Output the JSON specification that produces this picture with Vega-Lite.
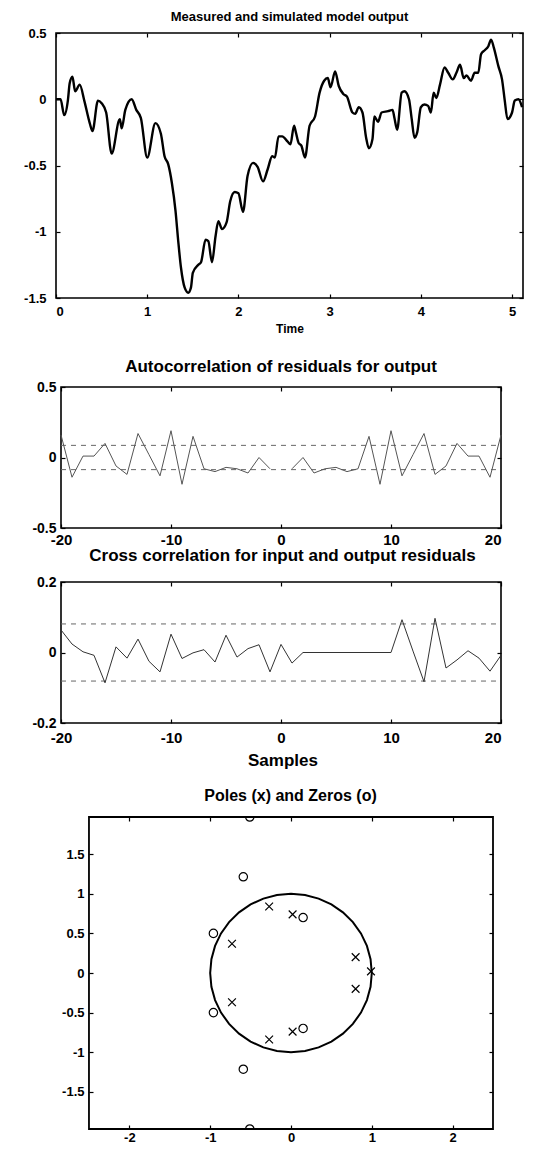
{
  "$schema": "https://vega.github.io/schema/vega-lite/v6.json",
  "background": "white",
  "padding": {"left": 0, "top": 10, "right": 0, "bottom": 0},
  "config": {
    "font": "Liberation Sans",
    "view": {"stroke": "black", "strokeWidth": 1.6},
    "axis": {"domain": false, "grid": false, "ticks": true, "tickColor": "black", "tickSize": -4, "tickWidth": 1.2, "labelColor": "black", "labelFont": "Liberation Sans", "labelFontWeight": "bold", "titleColor": "black", "titleFont": "Liberation Sans", "titleFontWeight": "bold", "labelExpr": "'' + datum.value"},
    "title": {"font": "Liberation Sans", "fontWeight": "bold", "color": "black", "anchor": "middle"}
  },
  "datasets": {
    "meas": [
      {"t":0.00,"v":0.00},{"t":0.05,"v":0.00},{"t":0.09,"v":-0.12},{"t":0.13,"v":-0.01},{"t":0.15,"v":0.12},{"t":0.18,"v":0.17},{"t":0.21,"v":0.06},{"t":0.26,"v":0.11},{"t":0.31,"v":-0.01},{"t":0.37,"v":-0.18},{"t":0.40,"v":-0.24},{"t":0.46,"v":-0.01},{"t":0.50,"v":-0.03},{"t":0.55,"v":-0.10},{"t":0.61,"v":-0.41},{"t":0.70,"v":-0.15},{"t":0.72,"v":-0.22},{"t":0.76,"v":-0.08},{"t":0.83,"v":0.00},{"t":0.88,"v":-0.08},{"t":0.93,"v":-0.14},{"t":1.00,"v":-0.44},{"t":1.09,"v":-0.18},{"t":1.15,"v":-0.26},{"t":1.19,"v":-0.43},{"t":1.23,"v":-0.49},{"t":1.27,"v":-0.63},{"t":1.31,"v":-0.84},{"t":1.34,"v":-1.07},{"t":1.37,"v":-1.27},{"t":1.41,"v":-1.42},{"t":1.45,"v":-1.46},{"t":1.48,"v":-1.42},{"t":1.50,"v":-1.31},{"t":1.56,"v":-1.25},{"t":1.59,"v":-1.23},{"t":1.64,"v":-1.06},{"t":1.67,"v":-1.07},{"t":1.71,"v":-1.23},{"t":1.75,"v":-1.03},{"t":1.78,"v":-0.92},{"t":1.82,"v":-0.98},{"t":1.87,"v":-0.93},{"t":1.91,"v":-0.77},{"t":1.96,"v":-0.70},{"t":2.00,"v":-0.71},{"t":2.05,"v":-0.85},{"t":2.10,"v":-0.58},{"t":2.16,"v":-0.48},{"t":2.21,"v":-0.51},{"t":2.27,"v":-0.62},{"t":2.32,"v":-0.53},{"t":2.37,"v":-0.43},{"t":2.40,"v":-0.44},{"t":2.44,"v":-0.28},{"t":2.48,"v":-0.28},{"t":2.54,"v":-0.32},{"t":2.57,"v":-0.34},{"t":2.61,"v":-0.20},{"t":2.63,"v":-0.25},{"t":2.66,"v":-0.33},{"t":2.69,"v":-0.35},{"t":2.73,"v":-0.44},{"t":2.78,"v":-0.20},{"t":2.84,"v":-0.13},{"t":2.89,"v":0.05},{"t":2.94,"v":0.14},{"t":2.98,"v":0.16},{"t":3.01,"v":0.09},{"t":3.06,"v":0.21},{"t":3.10,"v":0.10},{"t":3.15,"v":0.04},{"t":3.19,"v":0.02},{"t":3.25,"v":-0.10},{"t":3.28,"v":-0.11},{"t":3.32,"v":-0.06},{"t":3.36,"v":-0.10},{"t":3.40,"v":-0.29},{"t":3.43,"v":-0.37},{"t":3.47,"v":-0.30},{"t":3.49,"v":-0.13},{"t":3.53,"v":-0.17},{"t":3.57,"v":-0.10},{"t":3.64,"v":-0.09},{"t":3.69,"v":-0.08},{"t":3.71,"v":-0.14},{"t":3.74,"v":-0.23},{"t":3.79,"v":0.05},{"t":3.82,"v":0.06},{"t":3.87,"v":0.00},{"t":3.90,"v":-0.15},{"t":3.93,"v":-0.29},{"t":3.96,"v":-0.25},{"t":4.00,"v":-0.06},{"t":4.04,"v":-0.04},{"t":4.08,"v":-0.05},{"t":4.11,"v":-0.10},{"t":4.14,"v":0.05},{"t":4.17,"v":0.01},{"t":4.21,"v":0.11},{"t":4.26,"v":0.24},{"t":4.30,"v":0.20},{"t":4.35,"v":0.15},{"t":4.39,"v":0.20},{"t":4.43,"v":0.26},{"t":4.47,"v":0.16},{"t":4.50,"v":0.18},{"t":4.55,"v":0.14},{"t":4.59,"v":0.20},{"t":4.63,"v":0.20},{"t":4.66,"v":0.34},{"t":4.70,"v":0.37},{"t":4.74,"v":0.40},{"t":4.77,"v":0.45},{"t":4.80,"v":0.39},{"t":4.85,"v":0.25},{"t":4.89,"v":0.15},{"t":4.92,"v":-0.01},{"t":4.95,"v":-0.15},{"t":5.00,"v":-0.10},{"t":5.03,"v":-0.01},{"t":5.07,"v":0.00},{"t":5.11,"v":-0.06}
    ],
    "acf": [
      {"lag":-20,"r":0.16,"side":"a"},{"lag":-19,"r":-0.14,"side":"a"},{"lag":-18,"r":0.01,"side":"a"},{"lag":-17,"r":0.01,"side":"a"},{"lag":-16,"r":0.10,"side":"a"},{"lag":-15,"r":-0.06,"side":"a"},{"lag":-14,"r":-0.12,"side":"a"},{"lag":-13,"r":0.17,"side":"a"},{"lag":-12,"r":0.02,"side":"a"},{"lag":-11,"r":-0.13,"side":"a"},{"lag":-10,"r":0.19,"side":"a"},{"lag":-9,"r":-0.19,"side":"a"},{"lag":-8,"r":0.15,"side":"a"},{"lag":-7,"r":-0.08,"side":"a"},{"lag":-6,"r":-0.10,"side":"a"},{"lag":-5,"r":-0.07,"side":"a"},{"lag":-4,"r":-0.08,"side":"a"},{"lag":-3,"r":-0.11,"side":"a"},{"lag":-2,"r":0.00,"side":"a"},{"lag":-1,"r":-0.08,"side":"a"},
      {"lag":1,"r":-0.08,"side":"b"},{"lag":2,"r":0.00,"side":"b"},{"lag":3,"r":-0.11,"side":"b"},{"lag":4,"r":-0.08,"side":"b"},{"lag":5,"r":-0.07,"side":"b"},{"lag":6,"r":-0.10,"side":"b"},{"lag":7,"r":-0.08,"side":"b"},{"lag":8,"r":0.15,"side":"b"},{"lag":9,"r":-0.19,"side":"b"},{"lag":10,"r":0.19,"side":"b"},{"lag":11,"r":-0.13,"side":"b"},{"lag":12,"r":0.02,"side":"b"},{"lag":13,"r":0.17,"side":"b"},{"lag":14,"r":-0.12,"side":"b"},{"lag":15,"r":-0.06,"side":"b"},{"lag":16,"r":0.10,"side":"b"},{"lag":17,"r":0.01,"side":"b"},{"lag":18,"r":0.01,"side":"b"},{"lag":19,"r":-0.14,"side":"b"},{"lag":20,"r":0.16,"side":"b"}
    ],
    "ccf": [
      {"lag":-20,"r":0.064},{"lag":-19,"r":0.024},{"lag":-18,"r":0.002},{"lag":-17,"r":-0.008},{"lag":-16,"r":-0.086},{"lag":-15,"r":0.016},{"lag":-14,"r":-0.016},{"lag":-13,"r":0.038},{"lag":-12,"r":-0.025},{"lag":-11,"r":-0.055},{"lag":-10,"r":0.052},{"lag":-9,"r":-0.017},{"lag":-8,"r":-0.001},{"lag":-7,"r":0.008},{"lag":-6,"r":-0.027},{"lag":-5,"r":0.049},{"lag":-4,"r":-0.013},{"lag":-3,"r":0.011},{"lag":-2,"r":0.022},{"lag":-1,"r":-0.055},{"lag":0,"r":0.023},{"lag":1,"r":-0.030},{"lag":2,"r":0.0},{"lag":3,"r":0.0},{"lag":4,"r":0.0},{"lag":5,"r":0.0},{"lag":6,"r":0.0},{"lag":7,"r":0.0},{"lag":8,"r":0.0},{"lag":9,"r":0.0},{"lag":10,"r":0.0},{"lag":11,"r":0.093},{"lag":12,"r":0.004},{"lag":13,"r":-0.083},{"lag":14,"r":0.097},{"lag":15,"r":-0.044},{"lag":16,"r":-0.021},{"lag":17,"r":0.005},{"lag":18,"r":-0.016},{"lag":19,"r":-0.053},{"lag":20,"r":-0.008}
    ],
    "circle": [
      {"i":0,"re":1,"im":0},{"i":1,"re":0.9848,"im":0.1736},{"i":2,"re":0.9397,"im":0.342},{"i":3,"re":0.866,"im":0.5},{"i":4,"re":0.766,"im":0.6428},{"i":5,"re":0.6428,"im":0.766},{"i":6,"re":0.5,"im":0.866},{"i":7,"re":0.342,"im":0.9397},{"i":8,"re":0.1736,"im":0.9848},{"i":9,"re":0,"im":1},{"i":10,"re":-0.1736,"im":0.9848},{"i":11,"re":-0.342,"im":0.9397},{"i":12,"re":-0.5,"im":0.866},{"i":13,"re":-0.6428,"im":0.766},{"i":14,"re":-0.766,"im":0.6428},{"i":15,"re":-0.866,"im":0.5},{"i":16,"re":-0.9397,"im":0.342},{"i":17,"re":-0.9848,"im":0.1736},{"i":18,"re":-1,"im":0},{"i":19,"re":-0.9848,"im":-0.1736},{"i":20,"re":-0.9397,"im":-0.342},{"i":21,"re":-0.866,"im":-0.5},{"i":22,"re":-0.766,"im":-0.6428},{"i":23,"re":-0.6428,"im":-0.766},{"i":24,"re":-0.5,"im":-0.866},{"i":25,"re":-0.342,"im":-0.9397},{"i":26,"re":-0.1736,"im":-0.9848},{"i":27,"re":0,"im":-1},{"i":28,"re":0.1736,"im":-0.9848},{"i":29,"re":0.342,"im":-0.9397},{"i":30,"re":0.5,"im":-0.866},{"i":31,"re":0.6428,"im":-0.766},{"i":32,"re":0.766,"im":-0.6428},{"i":33,"re":0.866,"im":-0.5},{"i":34,"re":0.9397,"im":-0.342},{"i":35,"re":0.9848,"im":-0.1736},{"i":36,"re":1,"im":0}
    ],
    "zeros": [
      {"re":-0.51,"im":1.97},{"re":-0.59,"im":1.215},{"re":-0.96,"im":0.5},{"re":0.15,"im":0.7},{"re":-0.96,"im":-0.5},{"re":0.15,"im":-0.7},{"re":-0.59,"im":-1.215},{"re":-0.51,"im":-1.97}
    ],
    "poles": [
      {"re":-0.27,"im":0.84},{"re":0.02,"im":0.74},{"re":-0.73,"im":0.37},{"re":0.80,"im":0.20},{"re":0.99,"im":0.02},{"re":0.80,"im":-0.20},{"re":-0.73,"im":-0.37},{"re":-0.27,"im":-0.84},{"re":0.02,"im":-0.74}
    ],
    "blank": [{"a": 0}]
  },
  "spacing": 0,
  "vconcat": [
    {
      "width": 467, "height": 265,
      "title": {"text": "Measured and simulated model output", "fontSize": 13, "offset": 3},
      "data": {"name": "meas"},
      "resolve": {"axis": {"x": "independent", "y": "independent"}},
      "layer": [
        {
          "mark": {"type": "line", "color": "black", "strokeWidth": 2.4, "interpolate": "monotone"},
          "encoding": {
            "x": {"field": "t", "type": "quantitative", "scale": {"domain": [0, 5.12], "nice": false, "zero": false},
                  "axis": {"values": [0,1,2,3,4,5], "title": "Time", "titleFontSize": 12, "labelFontSize": 13, "labelPadding": 11, "titlePadding": 5}},
            "y": {"field": "v", "type": "quantitative", "scale": {"domain": [-1.5, 0.5], "nice": false, "zero": false},
                  "axis": {"values": [-1.5,-1,-0.5,0,0.5], "title": null, "labelFontSize": 13, "labelPadding": 14, "minExtent": 55, "maxExtent": 55}}
          }
        },
        {
          "mark": {"type": "point", "opacity": 0},
          "encoding": {
            "x": {"field": "t", "type": "quantitative", "axis": {"orient": "top", "values": [0,1,2,3,4,5], "labels": false, "title": null}},
            "y": {"field": "v", "type": "quantitative", "axis": {"orient": "right", "values": [-1.5,-1,-0.5,0,0.5], "labels": false, "title": null}}
          }
        }
      ]
    },
    {"width": 10, "height": 23, "data": {"name": "blank"}, "mark": {"type": "point", "opacity": 0}, "encoding": {}, "view": {"stroke": null}},
    {
      "width": 445, "height": 141,
      "view": {"stroke": null},
      "title": {"text": "Autocorrelation of residuals for output", "fontSize": 17, "offset": 4, "dx": 2.5},
      "resolve": {"axis": {"x": "independent", "y": "independent"}},
      "layer": [
        {
          "data": {"name": "blank"},
          "mark": {"type": "rect", "filled": false, "stroke": "black", "strokeWidth": 1.6},
          "encoding": {"x": {"datum": -20, "type": "quantitative", "axis": null}, "x2": {"datum": 20}, "y": {"datum": -0.5, "type": "quantitative", "axis": null}, "y2": {"datum": 0.5}}
        },
        {
          "data": {"values": [{"c": 0.086}, {"c": -0.086}]},
          "mark": {"type": "rule", "color": "#666", "strokeWidth": 1, "strokeDash": [5, 5]},
          "encoding": {"y": {"field": "c", "type": "quantitative", "axis": null}, "x": {"datum": -20, "type": "quantitative", "axis": null}, "x2": {"datum": 20}}
        },
        {
          "data": {"name": "acf"},
          "mark": {"type": "line", "color": "#555", "strokeWidth": 1},
          "encoding": {
            "x": {"field": "lag", "type": "quantitative", "scale": {"domain": [-20.4545, 20], "nice": false},
                  "axis": {"values": [-20,-10,0,10,20], "title": null, "labelFontSize": 15, "labelPadding": 8}},
            "y": {"field": "r", "type": "quantitative", "scale": {"domain": [-0.5, 0.5], "nice": false},
                  "axis": {"values": [-0.5,0,0.5], "title": null, "labelFontSize": 14, "labelPadding": 9, "offset": -5, "minExtent": 55, "maxExtent": 55}},
            "detail": {"field": "side"}
          }
        },
        {
          "data": {"name": "acf"},
          "mark": {"type": "point", "opacity": 0},
          "encoding": {
            "x": {"field": "lag", "type": "quantitative", "axis": {"orient": "top", "values": [-20,-10,0,10,20], "labels": false, "title": null}},
            "y": {"field": "r", "type": "quantitative", "axis": {"orient": "right", "values": [-0.5,0,0.5], "labels": false, "title": null}}
          }
        }
      ]
    },
    {
      "width": 445, "height": 141,
      "view": {"stroke": null},
      "title": {"text": "Cross correlation for input and output residuals", "fontSize": 17, "offset": 10, "dx": 4},
      "resolve": {"axis": {"x": "independent", "y": "independent"}},
      "layer": [
        {
          "data": {"name": "blank"},
          "mark": {"type": "rect", "filled": false, "stroke": "black", "strokeWidth": 1.6},
          "encoding": {"x": {"datum": -20, "type": "quantitative", "axis": null}, "x2": {"datum": 20}, "y": {"datum": -0.2, "type": "quantitative", "axis": null}, "y2": {"datum": 0.2}}
        },
        {
          "data": {"values": [{"c": 0.081}, {"c": -0.081}]},
          "mark": {"type": "rule", "color": "#666", "strokeWidth": 1, "strokeDash": [5, 5]},
          "encoding": {"y": {"field": "c", "type": "quantitative", "axis": null}, "x": {"datum": -20, "type": "quantitative", "axis": null}, "x2": {"datum": 20}}
        },
        {
          "data": {"name": "ccf"},
          "mark": {"type": "line", "color": "#333", "strokeWidth": 1},
          "encoding": {
            "x": {"field": "lag", "type": "quantitative", "scale": {"domain": [-20.4545, 20], "nice": false},
                  "axis": {"values": [-20,-10,0,10,20], "title": "Samples", "titleFontSize": 17, "labelFontSize": 15, "labelPadding": 11, "titlePadding": 7, "titleX": 226.5}},
            "y": {"field": "r", "type": "quantitative", "scale": {"domain": [-0.2, 0.2], "nice": false},
                  "axis": {"values": [-0.2,0,0.2], "title": null, "labelFontSize": 14, "labelPadding": 9, "offset": -5, "minExtent": 55, "maxExtent": 55}}
          }
        },
        {
          "data": {"name": "ccf"},
          "mark": {"type": "point", "opacity": 0},
          "encoding": {
            "x": {"field": "lag", "type": "quantitative", "axis": {"orient": "top", "values": [-20,-10,0,10,20], "labels": false, "title": null}},
            "y": {"field": "r", "type": "quantitative", "axis": {"orient": "right", "values": [-0.2,0,0.2], "labels": false, "title": null}}
          }
        }
      ]
    },
    {"width": 10, "height": 20, "data": {"name": "blank"}, "mark": {"type": "point", "opacity": 0}, "encoding": {}, "view": {"stroke": null}},
    {
      "width": 437, "height": 312,
      "view": {"stroke": null},
      "title": {"text": "Poles (x) and Zeros (o)", "fontSize": 16, "offset": 12, "dx": 16},
      "resolve": {"axis": {"x": "independent", "y": "independent"}},
      "layer": [
        {
          "data": {"name": "blank"},
          "mark": {"type": "rect", "filled": false, "stroke": "black", "strokeWidth": 1.8},
          "encoding": {"x": {"datum": -2.5, "type": "quantitative", "axis": null}, "x2": {"datum": 2.5}, "y": {"datum": -1.97, "type": "quantitative", "axis": null}, "y2": {"datum": 1.97}}
        },
        {
          "data": {"name": "circle"},
          "mark": {"type": "line", "color": "black", "strokeWidth": 2},
          "encoding": {
            "x": {"field": "re", "type": "quantitative", "scale": {"domain": [-2.908, 2.5], "nice": false},
                  "axis": {"values": [-2,-1,0,1,2], "title": null, "labelFontSize": 13, "labelPadding": 6}},
            "y": {"field": "im", "type": "quantitative", "scale": {"domain": [-1.97, 1.97], "nice": false},
                  "axis": {"values": [-1.5,-1,-0.5,0,0.5,1,1.5], "title": null, "labelFontSize": 13, "labelPadding": 9, "offset": -33, "minExtent": 55, "maxExtent": 55}},
            "order": {"field": "i", "type": "quantitative"}
          }
        },
        {
          "data": {"name": "zeros"},
          "mark": {"type": "point", "shape": "circle", "filled": false, "color": "black", "size": 70, "strokeWidth": 1.2, "opacity": 1, "clip": true},
          "encoding": {
            "x": {"field": "re", "type": "quantitative", "axis": null},
            "y": {"field": "im", "type": "quantitative", "axis": null}
          }
        },
        {
          "data": {"name": "poles"},
          "mark": {"type": "point", "shape": "M-1,-1L1,1M1,-1L-1,1", "filled": false, "color": "black", "size": 60, "strokeWidth": 1.2, "opacity": 1},
          "encoding": {
            "x": {"field": "re", "type": "quantitative", "axis": {"orient": "top", "values": [-2,-1,0,1,2], "labels": false, "title": null}},
            "y": {"field": "im", "type": "quantitative", "axis": {"orient": "right", "values": [-1.5,-1,-0.5,0,0.5,1,1.5], "labels": false, "title": null}}
          }
        }
      ]
    }
  ]
}
